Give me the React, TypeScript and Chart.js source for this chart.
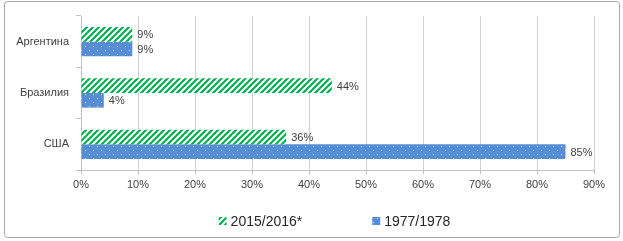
import React, { useEffect, useRef } from "react";
import { Chart, registerables } from "chart.js";

Chart.register(...registerables);

const categories = ["Аргентина", "Бразилия", "США"];
const values2015 = [9, 44, 36];
const values1977 = [9, 4, 85];
const seriesNames = ["2015/2016*", "1977/1978"];
const xMin = 0;
const xMax = 90;
const xStep = 10;

const FONT = "'Liberation Sans', Arial, sans-serif";
const GREEN = "#00B050";
const BLUE = "#558ED5";

function makeStripePattern(): CanvasPattern | string {
  const c = document.createElement("canvas");
  const s = 6;
  c.width = s;
  c.height = s;
  const g = c.getContext("2d");
  if (!g) return GREEN;
  g.fillStyle = "#ffffff";
  g.fillRect(0, 0, s, s);
  g.strokeStyle = GREEN;
  g.lineWidth = 2.2;
  g.lineCap = "square";
  for (const o of [-s, 0, s]) {
    g.beginPath();
    g.moveTo(o, s);
    g.lineTo(o + s, 0);
    g.stroke();
  }
  const p = g.createPattern(c, "repeat");
  return p || GREEN;
}

function makeDotPattern(): CanvasPattern | string {
  const c = document.createElement("canvas");
  c.width = 8;
  c.height = 8;
  const g = c.getContext("2d");
  if (!g) return BLUE;
  g.fillStyle = BLUE;
  g.fillRect(0, 0, 8, 8);
  g.fillStyle = "rgba(255,255,255,0.85)";
  g.fillRect(1, 2, 1, 1);
  g.fillRect(5, 6, 1, 1);
  const p = g.createPattern(c, "repeat");
  return p || BLUE;
}

export default function App() {
  const ref = useRef<HTMLCanvasElement | null>(null);

  useEffect(() => {
    document.body.style.margin = "0";
    const canvas = ref.current;
    if (!canvas) return;
    const stripe = makeStripePattern();
    const dots = makeDotPattern();

    const frame = {
      id: "frame",
      beforeDraw(chart: any) {
        const ctx = chart.ctx;
        ctx.save();
        ctx.fillStyle = "#ffffff";
        ctx.fillRect(0, 0, chart.width, chart.height);
        ctx.strokeStyle = "#a6a6a6";
        ctx.lineWidth = 1;
        ctx.beginPath();
        (ctx as any).roundRect(4.5, 1.5, 615, 236, 3);
        ctx.stroke();
        ctx.restore();
      },
    };

    const valueLabels = {
      id: "valueLabels",
      afterDatasetsDraw(chart: any) {
        const ctx = chart.ctx;
        ctx.save();
        ctx.font = `11px ${FONT}`;
        ctx.fillStyle = "#404040";
        ctx.textAlign = "left";
        ctx.textBaseline = "middle";
        chart.data.datasets.forEach((ds: any, i: number) => {
          const meta = chart.getDatasetMeta(i);
          meta.data.forEach((el: any, j: number) => {
            ctx.fillText(`${ds.data[j]}%`, el.x + 5, el.y + 1);
          });
        });
        ctx.restore();
      },
    };

    const legendPlugin = {
      id: "customLegend",
      afterDraw(chart: any) {
        const ctx = chart.ctx;
        ctx.save();
        ctx.font = `14px ${FONT}`;
        ctx.textBaseline = "middle";
        ctx.textAlign = "left";
        const box = 8;
        const gapBoxText = 4;
        const gapItems = 70;
        const fills = [stripe, dots];
        const widths = seriesNames.map((n) => box + gapBoxText + ctx.measureText(n).width);
        const total = widths[0] + gapItems + widths[1];
        const cx = (chart.chartArea.left + chart.chartArea.right) / 2 - 3;
        let x = cx - total / 2;
        const y = 221;
        seriesNames.forEach((n, i) => {
          ctx.fillStyle = fills[i] as any;
          ctx.fillRect(x, y - box / 2, box, box);
          ctx.fillStyle = "#262626";
          ctx.fillText(n, x + box + gapBoxText, y + 1);
          x += widths[i] + gapItems;
        });
        ctx.restore();
      },
    };

    const chart = new Chart(canvas, {
      type: "bar",
      data: {
        labels: categories,
        datasets: [
          {
            label: seriesNames[0],
            data: values2015,
            backgroundColor: stripe as any,
            borderWidth: 0,
            categoryPercentage: 0.57,
            barPercentage: 1.0,
          },
          {
            label: seriesNames[1],
            data: values1977,
            backgroundColor: dots as any,
            borderWidth: 0,
            categoryPercentage: 0.57,
            barPercentage: 1.0,
          },
        ],
      },
      options: {
        indexAxis: "y",
        responsive: false,
        animation: false,
        layout: { padding: { left: 0, top: 16, right: 29, bottom: 41 } },
        plugins: {
          legend: { display: false },
          tooltip: { enabled: false },
        },
        scales: {
          x: {
            min: xMin,
            max: xMax,
            ticks: {
              stepSize: xStep,
              callback: (v: any) => `${v}%`,
              font: { family: FONT, size: 11 },
              color: "#404040",
              padding: 4,
              maxRotation: 0,
            },
            grid: {
              color: "#d0d0d0",
              tickColor: "#bfbfbf",
              tickLength: 4,
            },
            border: { display: true, color: "#bfbfbf" },
            afterFit: (s: any) => {
              s.height = 30;
            },
          },
          y: {
            offset: true,
            ticks: {
              font: { family: FONT, size: 11 },
              color: "#404040",
              padding: 7,
            },
            grid: {
              offset: true,
              drawOnChartArea: false,
              tickColor: "#bfbfbf",
              tickLength: 5,
            },
            border: { display: true, color: "#bfbfbf" },
            afterFit: (s: any) => {
              s.width = 81;
            },
          },
        },
      },
      plugins: [frame, valueLabels, legendPlugin],
    });

    return () => chart.destroy();
  }, []);

  return (
    <div style={{ width: 623, height: 241 }}>
      <canvas ref={ref} width={623} height={241} style={{ display: "block" }} />
    </div>
  );
}
